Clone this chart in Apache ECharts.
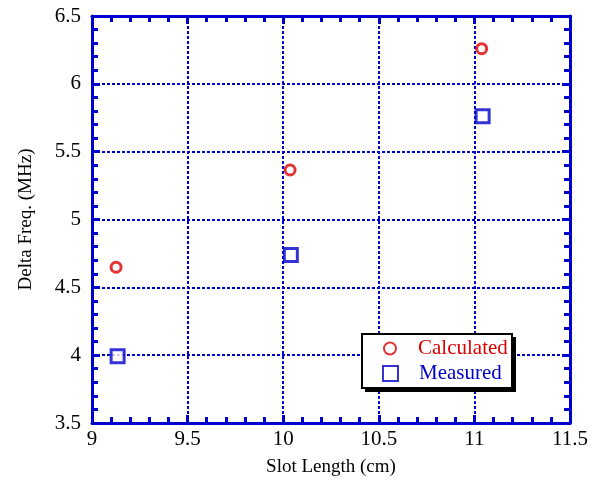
<!DOCTYPE html>
<html><head><meta charset="utf-8">
<script src="https://cdn.jsdelivr.net/npm/echarts@6/dist/echarts.min.js"></script>
<style>html,body{margin:0;padding:0;background:#fff}#c{width:601px;height:487px}</style>
</head><body><div id="c"></div>
<script>
var calcX = [9.126, 10.036, 11.038];
var calcY = [4.648, 5.365, 6.259];
var measX = [9.134, 10.04, 11.043];
var measY = [3.992, 4.739, 5.761];
var xTicks = [9, 9.5, 10, 10.5, 11, 11.5];
var yTicks = [3.5, 4, 4.5, 5, 5.5, 6, 6.5];

var BLUE = '#0000cc', RED = '#dd0000';
var FONT = 'Liberation Serif';
function pairs(xs, ys){ return xs.map(function(x,i){return [x, ys[i]];}); }

var chart = echarts.init(document.getElementById('c'), null, {renderer:'canvas'});
function axisBase(pos, isX, show){
  return {
    type:'value', position:pos,
    min: isX ? xTicks[0] : yTicks[0],
    max: isX ? xTicks[xTicks.length-1] : yTicks[yTicks.length-1],
    interval:0.5,
    axisLine:{show:true, onZero:false, lineStyle:{color:BLUE, width:3}},
    axisTick:{show:true, inside:true, length:8, lineStyle:{color:BLUE, width:3}},
    minorTick:{show:true, splitNumber:5, length:6, lineStyle:{color:BLUE, width:3}},
    splitLine:{show:show, lineStyle:{color:BLUE, width:2, type:[3,2]}},
    axisLabel:{show:show, color:'#000', fontFamily:FONT, fontSize:21, margin: isX?6:11,
      formatter:function(v){return String(v);}}
  };
}
var xb = axisBase('bottom', true, true);
xb.name = 'Slot Length (cm)'; xb.nameLocation='middle'; xb.nameGap=35;
xb.nameTextStyle = {fontFamily:FONT, fontSize:19, color:'#000'};
var yl = axisBase('left', false, true);
yl.name = 'Delta Freq. (MHz)'; yl.nameLocation='middle'; yl.nameGap=56;
yl.nameTextStyle = {fontFamily:FONT, fontSize:19, color:'#000'};
var xt = axisBase('top', true, false);
var yr = axisBase('right', false, false);

chart.setOption({
  animation:false,
  backgroundColor:'#fff',
  grid:{left:92, top:16, width:478, height:407, containLabel:false},
  xAxis:[xb, xt],
  yAxis:[yl, yr],
  graphic:[
    {type:'rect', z:3, shape:{x:365, y:337, width:151, height:55}, style:{fill:'#000'}},
    {type:'rect', z:3, shape:{x:362, y:334, width:150, height:54}, style:{fill:'#fff', stroke:'#000', lineWidth:2}}
  ],
  legend:[
    {left:383, top:338, z:5, itemWidth:12, itemHeight:12, padding:0,
     textStyle:{fontFamily:FONT, fontSize:21, color:RED, padding:[0,0,0,17]},
     data:['Calculated']},
    {left:382, top:363, z:5, itemWidth:15, itemHeight:15, padding:0,
     textStyle:{fontFamily:FONT, fontSize:21, color:BLUE, padding:[0,0,0,16]},
     data:['Measured']}
  ],
  series:[
    {name:'Calculated', type:'scatter', xAxisIndex:0, yAxisIndex:0, symbol:'circle', symbolSize:10,
     itemStyle:{color:'#fff', borderColor:RED, borderWidth:3}, data:pairs(calcX, calcY)},
    {name:'Measured', type:'scatter', xAxisIndex:0, yAxisIndex:0, symbol:'rect', symbolSize:13,
     itemStyle:{color:'#fff', borderColor:BLUE, borderWidth:3}, data:pairs(measX, measY)}
  ]
});
</script></body></html>
